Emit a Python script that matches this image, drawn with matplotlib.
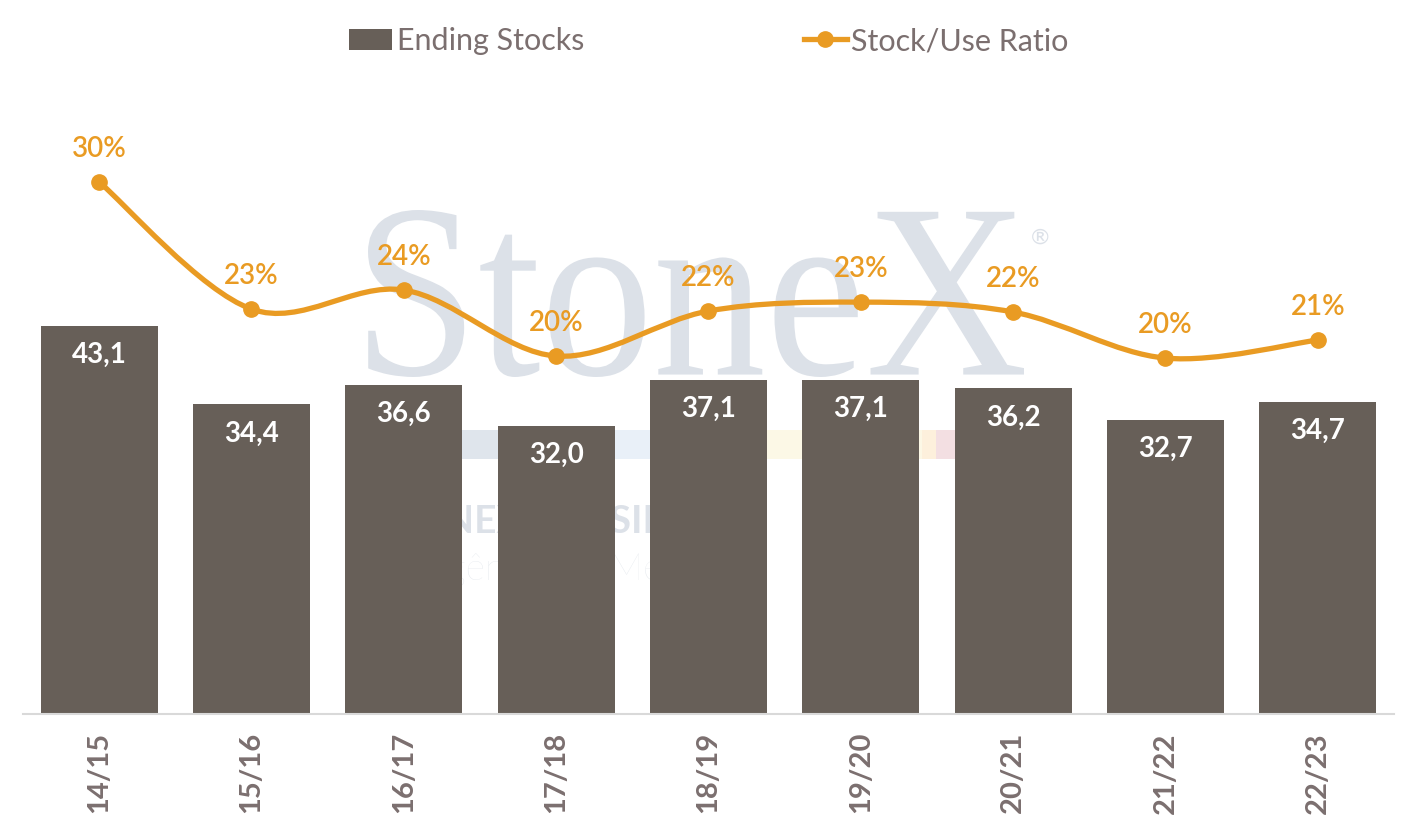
import numpy as np
import matplotlib
matplotlib.use("Agg")
import matplotlib.pyplot as plt
from matplotlib.path import Path
from matplotlib.patches import PathPatch, Patch, Rectangle
from matplotlib.lines import Line2D
from matplotlib.textpath import TextPath
from matplotlib.font_manager import FontProperties
from matplotlib.transforms import Affine2D

plt.rcParams['font.family'] = ['Lato', 'DejaVu Sans']

seasons = ['14/15', '15/16', '16/17', '17/18', '18/19', '19/20', '20/21', '21/22', '22/23']
ending_stocks = [43.1, 34.4, 36.6, 32.0, 37.1, 37.1, 36.2, 32.7, 34.7]
stock_use = [0.300, 0.2255, 0.2367, 0.198, 0.2244, 0.2296, 0.2238, 0.1968, 0.2074]

bar_col = '#675F58'
line_col = '#E99B23'
txt_col = '#7B6F6F'
wm_col = '#DCE1E8'

W, H = 1418, 827
fig = plt.figure(figsize=(W / 100, H / 100), dpi=100)
ax = fig.add_axes([23 / W, 1 - 714 / H, (1394 - 23) / W, (714 - 84) / H])
ax2 = ax.twinx()
ax2.set_zorder(ax.get_zorder() + 1)

x = np.arange(len(seasons))
bars = ax.bar(x, ending_stocks, width=0.77, color=bar_col, zorder=2)
ax.set_ylim(0, 70)
ax.set_xlim(-0.5, len(seasons) - 0.5)
ax2.set_ylim(-0.01172, 0.3574)

for xi, v in zip(x, ending_stocks):
    ax.annotate(f"{v:.1f}".replace('.', ','), (xi, v), xytext=(0, -21),
                textcoords='offset points', ha='center', va='center',
                color='white', fontsize=20, fontweight='bold', zorder=3)

# watermark (behind the bars)
ft = fig.transFigure
tp = TextPath((0, 0), "StoneX", size=100, prop=FontProperties(family="Liberation Serif"))
ext = tp.get_extents()
sx = (1024 - 368) / ext.width
sy = (377 - 210) / ext.height
tr = Affine2D().translate(-ext.x0, -ext.y0).scale(sx / W, sy / H).translate(368 / W, (H - 377) / H) + ft
ax.add_artist(PathPatch(tp, transform=tr, facecolor=wm_col, edgecolor='none', zorder=0, clip_on=False))
ax.text(1040 / W, 1 - 238 / H, '®', transform=ft, color=wm_col, fontsize=16,
        ha='center', va='center', zorder=0)
band = [(368, 600, '#DFE5EC'), (600, 765, '#E9F0F8'), (765, 922, '#FCF8E6'),
        (922, 936, '#FDF0DC'), (936, 962, '#F3DFE2')]
for x0, x1, c in band:
    ax.add_artist(Rectangle((x0 / W, 1 - 459 / H), (x1 - x0) / W, 29 / H, transform=ft,
                            facecolor=c, edgecolor='none', zorder=0.5, clip_on=False))
ax.text(368 / W, 1 - 533 / H, 'STONEX BRASIL', transform=ft, color=wm_col, fontsize=28,
        fontweight='bold', ha='left', va='baseline', zorder=0.5)
ax.text(370 / W, 1 - 580 / H, 'Inteligência de Mercado', transform=ft, color='#E3E7EC',
        fontsize=27, fontweight='light', ha='left', va='baseline', zorder=0.5)

# smoothed line (Excel-like bezier)
pts = ax2.transData.transform(np.column_stack([x, stock_use]))
n = len(pts)
verts = [pts[0]]
codes = [Path.MOVETO]
for i in range(n - 1):
    p0 = pts[i - 1] if i > 0 else pts[i]
    p1, p2 = pts[i], pts[i + 1]
    p3 = pts[i + 2] if i + 2 < n else pts[i + 1]
    verts += [p1 + (p2 - p0) / 6, p2 - (p3 - p1) / 6, p2]
    codes += [Path.CURVE4] * 3
curve = Path(ax2.transData.inverted().transform(np.array(verts)), codes)
ax2.add_patch(PathPatch(curve, facecolor='none', edgecolor=line_col, lw=3.8,
                        capstyle='round', joinstyle='round', zorder=3))
ax2.plot(x, stock_use, 'o', color=line_col, ms=11, zorder=4)
for xi, v in zip(x, stock_use):
    ax2.annotate(f"{v:.0%}", (xi, v), xytext=(0, 24), textcoords='offset points',
                 ha='center', va='center', color=line_col, fontsize=20, fontweight='semibold')

for a in (ax, ax2):
    for s in ('top', 'left', 'right'):
        a.spines[s].set_visible(False)
    a.set_yticks([])
ax2.spines['bottom'].set_visible(False)
ax.spines['bottom'].set_color('#D9D9D9')
ax.spines['bottom'].set_linewidth(1.5)
ax.set_xticks(x)
ax.set_xticklabels(seasons, rotation=90, fontsize=21, fontweight='bold', color=txt_col)
ax.tick_params(axis='x', length=0, pad=13)

handles = [Patch(facecolor=bar_col, edgecolor='none'),
           Line2D([], [], color=line_col, lw=3.8, marker='o', ms=11)]
fig.legend(handles, ['Ending Stocks', 'Stock/Use Ratio'], loc='center',
           bbox_to_anchor=(0.5, 1 - 41 / H), ncol=2, frameon=False, fontsize=22,
           labelcolor=txt_col, handlelength=1.4, handletextpad=0.15, columnspacing=7.2)

fig.savefig('out.png', dpi=100)
